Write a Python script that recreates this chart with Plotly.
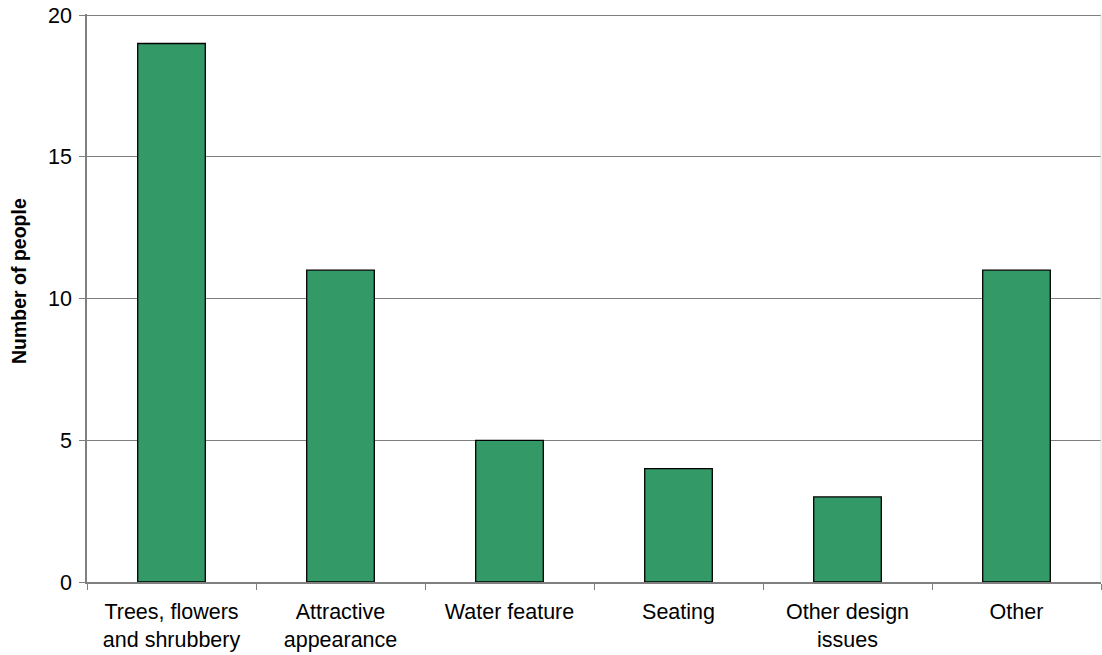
import plotly.graph_objects as go

categories = ["Trees, flowers<br>and shrubbery", "Attractive<br>appearance", "Water feature",
              "Seating", "Other design<br>issues", "Other"]
values = [19, 11, 5, 4, 3, 11]
y_ticks = [0, 5, 10, 15, 20]

W, H = 1102, 655
L, R, T, B = 87, 1, 14, 73

fig = go.Figure(go.Bar(
    x=categories, y=values,
    marker=dict(color="#339966", line=dict(color="#000000", width=1.3)),
    width=0.4,
))

fig.update_layout(
    width=W, height=H,
    margin=dict(l=L, r=R, t=T, b=B, autoexpand=False),
    paper_bgcolor="white", plot_bgcolor="white",
    font=dict(family="Liberation Sans, Arial, sans-serif", size=21, color="black"),
    showlegend=False,
)
fig.update_xaxes(
    type="category", tickson="boundaries", ticks="outside", ticklen=6,
    tickcolor="#7f7f7f", showline=True, linecolor="#7f7f7f", linewidth=1.5,
    showgrid=False, tickfont=dict(size=21.5), automargin=False,
    ticklabelstandoff=9,
)
fig.update_yaxes(
    range=[0, 20.04], tickvals=y_ticks, ticks="outside", ticklen=6,
    tickcolor="#7f7f7f", showline=True, linecolor="#7f7f7f", linewidth=1.5,
    showgrid=True, gridcolor="#7f7f7f", gridwidth=1, zeroline=False,
    tickfont=dict(size=21.5), automargin=False, ticklabelstandoff=3,
    ticklabeloverflow="allow",
)
plot_w = W - L - R
plot_h = H - T - B
fig.add_annotation(
    text="<b>Number of people</b>", textangle=-90,
    xref="paper", yref="paper", x=(19 - L) / plot_w, y=(582 - 281) / plot_h,
    xanchor="center", yanchor="middle", showarrow=False,
    font=dict(size=19.5),
)
fig.add_shape(type="line", xref="paper", yref="paper", x0=1, x1=1, y0=0, y1=1,
              line=dict(color="#e0e0e0", width=1))

fig.write_html(
    "out.html",
    config={"displayModeBar": False},
    post_script="document.body.style.margin='0';document.body.style.overflow='hidden';",
)
